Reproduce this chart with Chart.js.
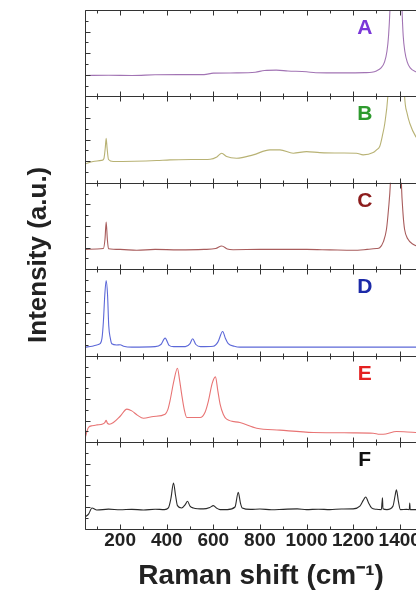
<!DOCTYPE html>
<html lang="en">
<head>
<meta charset="UTF-8">
<title>Raman spectra A-F</title>
<style>
  html, body { margin: 0; padding: 0; overflow: hidden; background: #fff; }
  #wrap { position: relative; width: 437px; height: 594px; }
</style>
</head>
<body>
<div id="wrap"><canvas id="ramanChart"></canvas></div>

<script src="https://cdn.jsdelivr.net/npm/chart.js"></script>
<script>
// panel names and colours (top to bottom)
const panelNames = ['A', 'B', 'C', 'D', 'E', 'F'];
const lineColors = ['#a274b4', '#b8b274', '#a85c5c', '#5c68d8', '#e87474', '#2a2a2a'];
const labelColors = ['#7a36d8', '#2e9a2e', '#8c1c1c', '#1c2aa8', '#e42020', '#111111'];

// x tick positions (every 100, labelled every 200)
const xTickValues = [100, 200, 300, 400, 500, 600, 700, 800, 900, 1000, 1100, 1200, 1300, 1400, 1500];

// spectra (Raman shift in cm-1, intensity in panel units 0-100)
const shiftA = [50, 150, 250, 350, 450, 560, 600, 700, 780, 820, 870, 920, 1000, 1040, 1150, 1250, 1280, 1300, 1320, 1335, 1345, 1352, 1358, 1370, 1386, 1400, 1410, 1415, 1422, 1432, 1445, 1470, 1500, 1560];
const intensityA = [24.3, 24.5, 24.3, 25, 25.2, 25.2, 27, 27.2, 28, 30, 30.4, 29.5, 28.5, 27.4, 27.2, 27.5, 28, 29.5, 33, 40, 52, 70, 100, 200, 300, 200, 100, 70, 52, 40, 33, 28.5, 27, 26];

const shiftB = [50, 84, 120, 130, 136, 140, 144, 150, 170, 260, 357, 414, 520, 586, 615, 636, 657, 700, 771, 843, 886, 943, 1000, 1057, 1150, 1214, 1243, 1286, 1300, 1314, 1326, 1336, 1349, 1365, 1385, 1410, 1421, 1432, 1443, 1469, 1500, 1560];
const intensityB = [22, 24.7, 26, 28, 40, 51.6, 40, 27, 24.7, 25, 25.8, 26.6, 27, 27.4, 30, 34.3, 30.4, 28.5, 32.4, 38.2, 38.2, 34.3, 36.2, 35, 34.5, 34.3, 32.4, 35, 38, 42, 55, 69, 100, 180, 250, 180, 100, 80, 69, 53.5, 45, 38];

const shiftC = [50, 100, 128, 135, 140, 145, 150, 200, 271, 350, 450, 560, 610, 636, 660, 685, 800, 900, 1000, 1100, 1200, 1260, 1300, 1314, 1330, 1343, 1352, 1360, 1372, 1385, 1398, 1407, 1414, 1421, 1435, 1457, 1500, 1560];
const intensityC = [23.1, 23.5, 24, 35, 54.7, 35, 23.8, 23, 22, 23, 22.5, 23, 24, 27, 23.5, 22.7, 23, 23, 23, 22.5, 22, 23, 24, 25, 32, 46, 70, 100, 200, 260, 200, 100, 65, 46, 35, 29, 25, 24];

const shiftD = [50, 80, 100, 114, 122, 128, 134, 140, 146, 151, 158, 164, 185, 200, 215, 250, 350, 375, 393, 410, 430, 480, 500, 511, 525, 545, 600, 620, 640, 652, 664, 690, 714, 900, 1100, 1300, 1560];
const intensityD = [10, 11, 12.5, 13.9, 20, 39, 70, 87, 70, 35, 20, 13.9, 12.5, 12.7, 11, 10, 10.5, 13, 20.4, 12, 10.5, 10.5, 14, 19.7, 13, 10.5, 11, 16, 28.1, 20, 13.9, 11, 10, 10, 10, 10, 10];

const shiftE = [50, 64, 80, 100, 125, 135, 140, 145, 154, 171, 200, 229, 250, 275, 300, 343, 393, 405, 414, 430, 446, 455, 464, 475, 486, 543, 565, 579, 595, 609, 619, 629, 643, 657, 714, 786, 886, 1029, 1200, 1286, 1314, 1340, 1386, 1469, 1560];
const intensityE = [5.4, 17, 19, 20, 21, 23, 25.4, 22, 20.8, 22.7, 30, 38.2, 36.2, 31, 27.7, 29.7, 32.4, 38, 47.8, 70, 85.5, 72, 55.5, 38, 28.5, 28.5, 35, 47.8, 68, 75.5, 60, 44, 32, 26.6, 22.7, 16.2, 13.9, 11.2, 10.8, 10.4, 9.2, 9.5, 12.3, 11.2, 11];

const shiftF = [50, 65, 79, 100, 150, 200, 250, 300, 350, 390, 407, 418, 429, 438, 446, 464, 480, 489, 500, 514, 557, 585, 600, 615, 629, 660, 693, 707, 716, 724, 760, 800, 850, 900, 960, 1000, 1050, 1100, 1150, 1200, 1229, 1244, 1254, 1266, 1279, 1300, 1321, 1324, 1326, 1328, 1345, 1371, 1380, 1386, 1394, 1403, 1430, 1441, 1443, 1445, 1480, 1560];
const intensityF = [13.5, 17, 23.9, 21.5, 22.5, 21.8, 22.3, 21.6, 22.4, 22, 23.9, 35, 52.8, 38, 26.6, 23.9, 28, 31.6, 26, 23.9, 22.8, 24.5, 26.6, 23.5, 22, 22, 25, 42, 30, 23.9, 22.2, 22.6, 21.8, 22.3, 22.8, 22, 22.4, 22, 22.6, 22.8, 26, 33, 36.6, 30, 23.9, 22.3, 22, 30, 35.5, 23, 22, 26, 38, 45, 32, 22, 22.3, 22, 29.7, 22, 22, 22];

const shifts = [shiftA, shiftB, shiftC, shiftD, shiftE, shiftF];
const intensities = [intensityA, intensityB, intensityC, intensityD, intensityE, intensityF];
const panelIds = panelNames.map(n => 'y' + n);

const fontFamily = 'Arial, "Liberation Sans", Helvetica, sans-serif';

// draws the box round each panel, the inward ticks and the panel letter
const panelFrame = {
    id: 'panelFrame',
    afterDatasetsDraw(chart) {
        const ctx = chart.ctx;
        const xs = chart.scales.x;
        const left = Math.round(xs.left) + 0.5;
        const right = Math.round(xs.right) + 0.5;
        ctx.save();
        ctx.strokeStyle = '#333';
        ctx.lineWidth = 1;
        panelIds.forEach((id, i) => {
            const ys = chart.scales[id];
            const top = Math.round(ys.top) + 0.5;
            const bottom = Math.round(ys.bottom) + 0.5;
            ctx.beginPath();
            ctx.rect(left, top, right - left, bottom - top);
            xs.ticks.forEach(t => {
                const px = Math.round(xs.getPixelForValue(t.value)) + 0.5;
                const len = t.value % 200 === 0 ? 5 : 3;
                ctx.moveTo(px, bottom);
                ctx.lineTo(px, bottom - len);
                ctx.moveTo(px, top);
                ctx.lineTo(px, top + len);
            });
            ys.ticks.forEach((t, k) => {
                const py = Math.round(ys.getPixelForValue(t.value)) + 0.5;
                const len = k % 2 === 0 ? 5 : 3;
                ctx.moveTo(left, py);
                ctx.lineTo(left + len, py);
            });
            ctx.stroke();

            ctx.fillStyle = labelColors[i];
            ctx.font = 'bold 21px ' + fontFamily;
            ctx.textAlign = 'center';
            ctx.textBaseline = 'middle';
            ctx.fillText(panelNames[i], xs.getPixelForValue(1250), ys.getPixelForValue(79));
        });
        ctx.restore();
    }
};

const datasets = panelNames.map((name, i) => ({
    label: name,
    data: shifts[i].map((x, k) => ({ x: x, y: intensities[i][k] })),
    yAxisID: panelIds[i],
    borderColor: lineColors[i],
    borderWidth: 1.1,
    pointRadius: 0,
    fill: false,
    cubicInterpolationMode: 'monotone'
}));

const scales = {
    x: {
        type: 'linear',
        position: 'bottom',
        min: 50,
        max: 1560,
        afterBuildTicks: axis => {
            axis.ticks = xTickValues.map(v => ({ value: v }));
        },
        grid: { display: false, drawTicks: false },
        border: { display: false },
        ticks: {
            autoSkip: false,
            maxRotation: 0,
            padding: 1,
            color: '#222',
            font: { family: fontFamily, size: 19, weight: 'bold' },
            callback: v => (v % 200 === 0 ? String(v) : '')
        },
        title: {
            display: true,
            text: 'Raman shift (cm\u207B\u00B9)',
            color: '#222',
            font: { family: fontFamily, size: 28, weight: 'bold' },
            padding: { top: 6, bottom: 1 }
        }
    },
    // empty axis that only carries the shared y title
    yTitle: {
        type: 'linear',
        position: 'left',
        weight: 10,
        grid: { display: false, drawTicks: false },
        border: { display: false },
        ticks: { display: false },
        title: {
            display: true,
            text: '\u00A0\u00A0\u00A0\u00A0Intensity (a.u.)',
            color: '#222',
            font: { family: fontFamily, size: 26, weight: 'bold' },
            padding: { top: 23, bottom: 31 }
        }
    }
};

panelIds.forEach((id, i) => {
    scales[id] = {
        type: 'linear',
        position: 'left',
        stack: 'panels',
        stackWeight: 1,
        weight: 6 - i,
        min: 0,
        max: 100,
        grid: { display: false, drawTicks: false },
        border: { display: false },
        ticks: { display: false, stepSize: 12.5 }
    };
});

const ctx = document.getElementById('ramanChart').getContext('2d');
const ramanChart = new Chart(ctx, {
    type: 'line',
    data: { datasets: datasets },
    options: {
        responsive: true,
        maintainAspectRatio: false,
        animation: false,
        layout: { padding: { top: 10, left: 0, right: 0, bottom: 0 } },
        plugins: {
            legend: { display: false },
            tooltip: { enabled: false }
        },
        scales: scales
    },
    plugins: [panelFrame]
});
</script>
</body>
</html>
